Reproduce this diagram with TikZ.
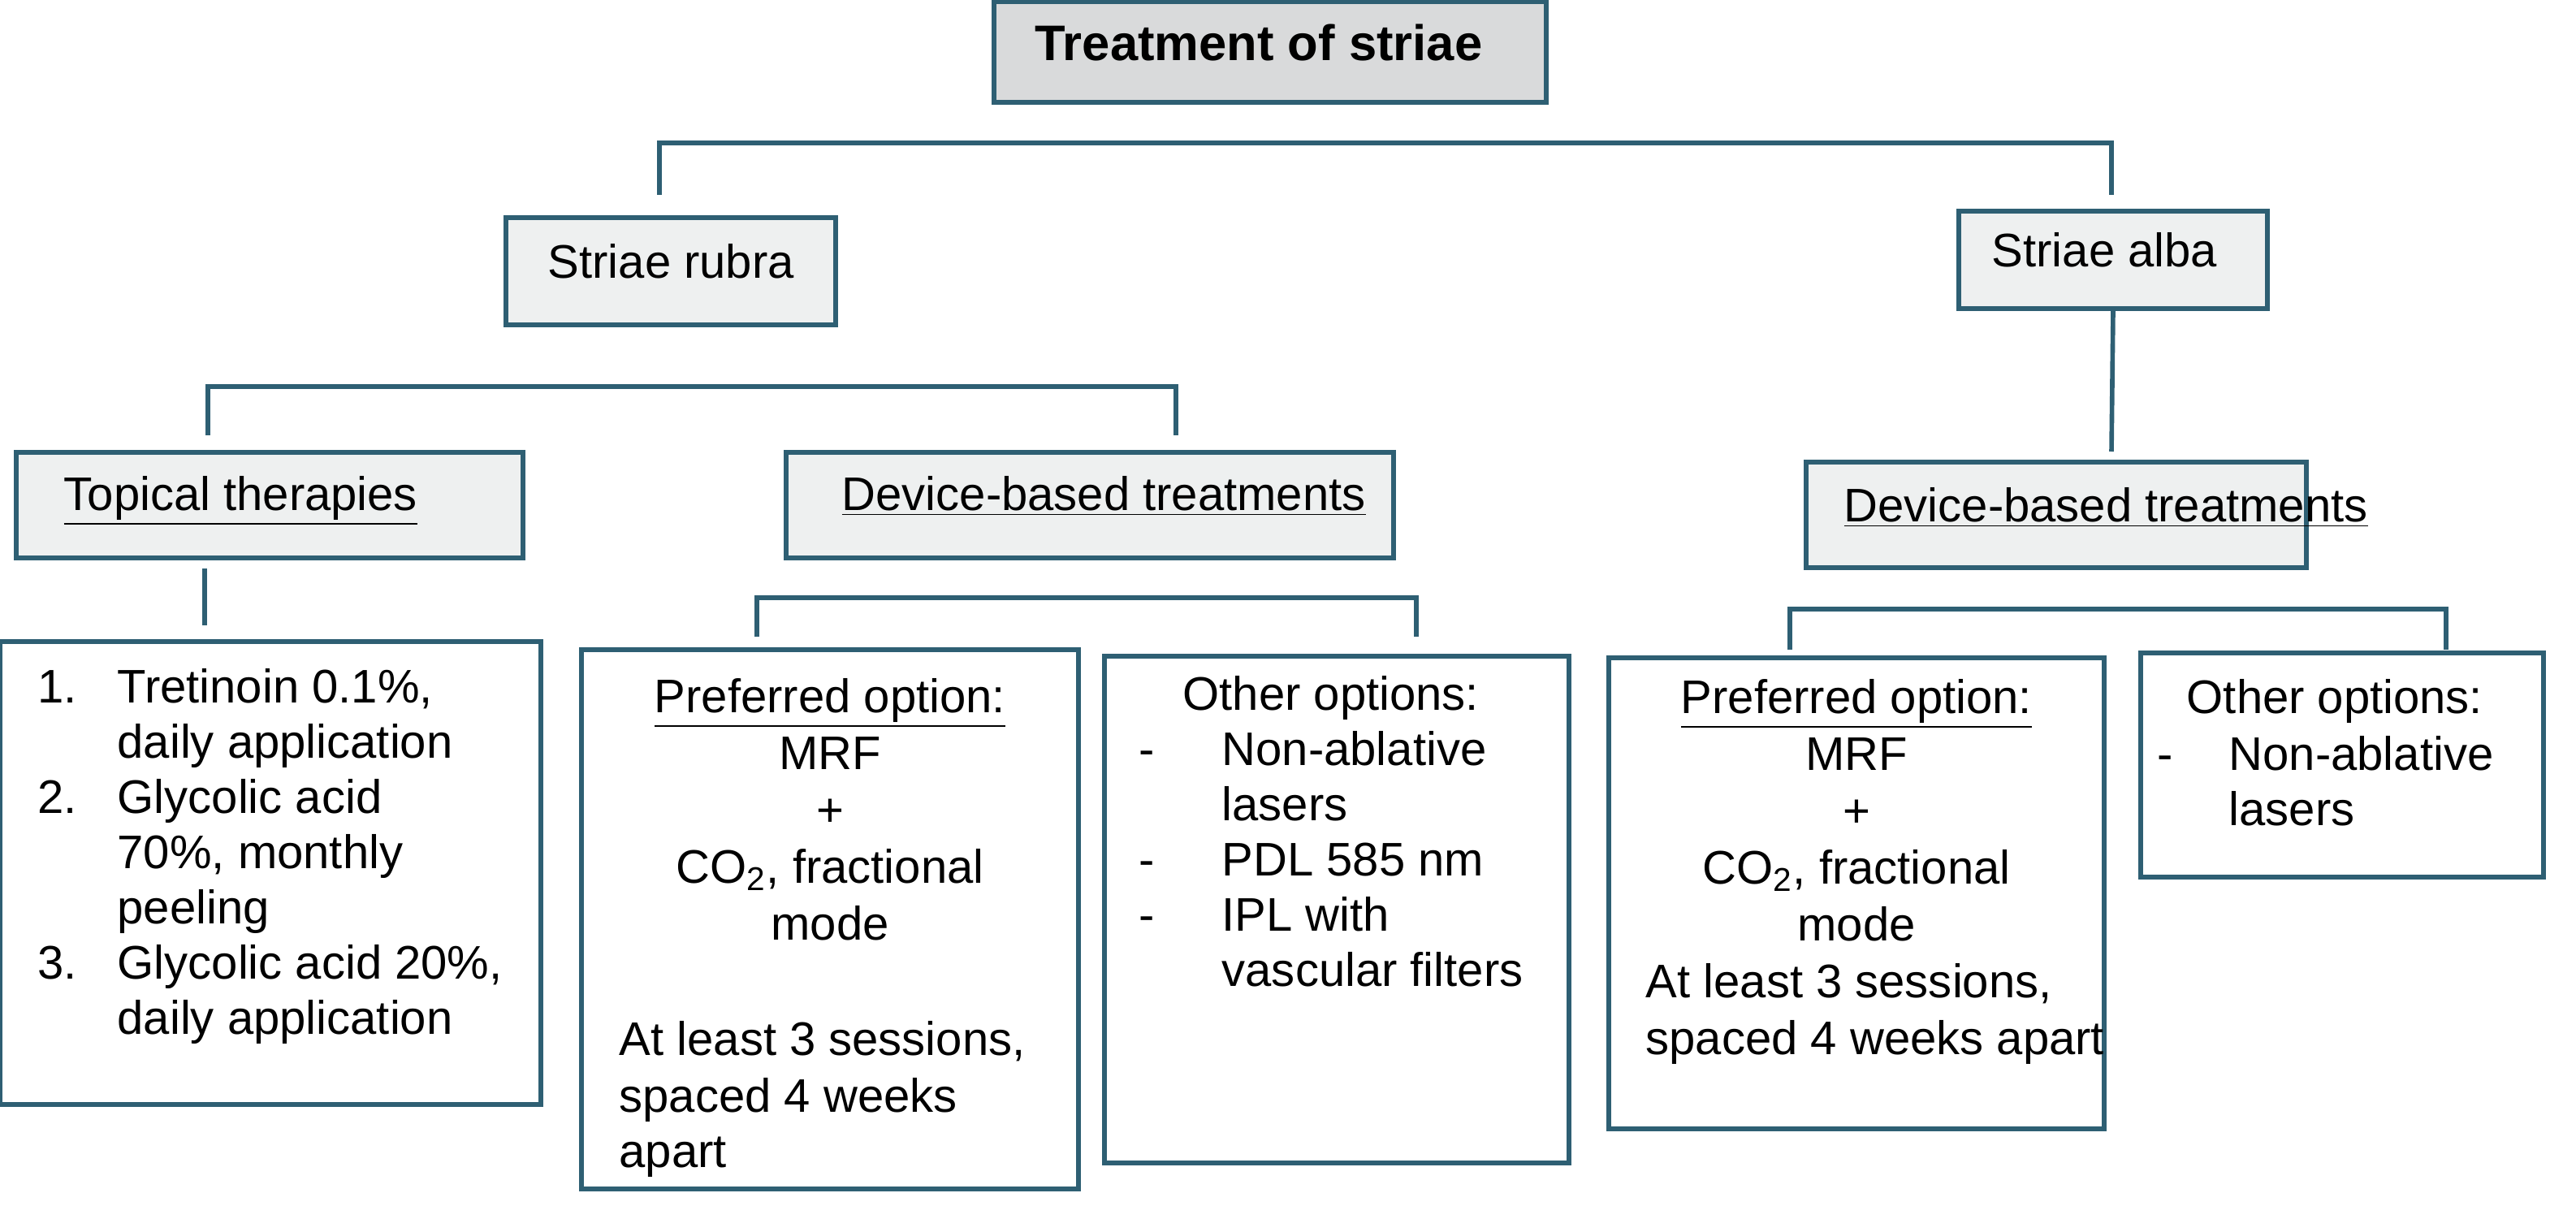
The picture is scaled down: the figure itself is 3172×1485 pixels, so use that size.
\documentclass[tikz,border=0pt]{standalone}
\usepackage{fontspec}
\setmainfont{Liberation Sans}
\usetikzlibrary{calc}
\definecolor{EdgeClr}{HTML}{2E5F73}
\definecolor{HeadClr}{HTML}{D9DADB}
\definecolor{SubClr}{HTML}{EEF0F0}

\begin{document}
\begin{tikzpicture}[x=0.01cm,y=-0.01cm]
\tikzset{box/.style={draw=EdgeClr,line width=1.6pt,inner sep=0pt},
  txt/.style={font=\fontsize{16.5}{20}\selectfont,inner sep=0pt,anchor=base west},
  ctxt/.style={txt,anchor=base},
  link/.style={draw=EdgeClr,line width=1.6pt}}
\useasboundingbox (0,0) rectangle (3172,1485);

% headers
\node[box,fill=HeadClr,minimum width=6.8cm,minimum height=1.24cm] (root) at (1564,64) {};
\node[txt,font=\fontsize{17.5}{20}\selectfont\bfseries] at (1274,75) {Treatment of striae};
\node[box,fill=SubClr,minimum width=4.06cm,minimum height=1.32cm] (rubra) at (826,334) {};
\node[txt] at (674,342) {Striae rubra};
\node[box,fill=SubClr,minimum width=3.8cm,minimum height=1.2cm] (alba) at (2602,320) {};
\node[txt] at (2452,328) {Striae alba};
\node[box,fill=SubClr,minimum width=6.24cm,minimum height=1.3cm] (topical) at (332,622) {};
\node[txt] at (78,628) {\underline{Topical therapies}};
\node[box,fill=SubClr,minimum width=7.48cm,minimum height=1.3cm] (devL) at (1342,622) {};
\node[txt] at (1036,628) {\underline{Device-based treatments}};
\node[box,fill=SubClr,minimum width=6.16cm,minimum height=1.3cm] (devR) at (2532,634) {};
\node[txt] at (2270,642) {\underline{Device-based treatments}};

% content boxes
\node[box,minimum width=6.66cm,minimum height=5.7cm] (list) at (333,1075) {};
\node[txt] at (46,865) {1.}; \node[txt] at (144,865) {Tretinoin 0.1\%,};
\node[txt] at (144,933) {daily application};
\node[txt] at (46,1001) {2.}; \node[txt] at (144,1001) {Glycolic acid};
\node[txt] at (144,1069) {70\%, monthly};
\node[txt] at (144,1137) {peeling};
\node[txt] at (46,1205) {3.}; \node[txt] at (144,1205) {Glycolic acid 20\%,};
\node[txt] at (144,1273) {daily application};

\node[box,minimum width=6.12cm,minimum height=6.64cm] (prefL) at (1022,1132) {};
\node[ctxt] at (1022,877) {\underline{Preferred option:}};
\node[ctxt] at (1022,947) {MRF};
\node[ctxt] at (1022,1017) {+};
\node[ctxt] at (1022,1087) {CO\textsubscript{2}, fractional};
\node[ctxt] at (1022,1157) {mode};
\node[txt] at (762,1299) {At least 3 sessions,};
\node[txt] at (762,1369) {spaced 4 weeks};
\node[txt] at (762,1437) {apart};

\node[box,minimum width=5.72cm,minimum height=6.24cm] (othL) at (1646,1120) {};
\node[txt] at (1456,874) {Other options:};
\node[txt] at (1402,942) {-}; \node[txt] at (1504,942) {Non-ablative};
\node[txt] at (1504,1010) {lasers};
\node[txt] at (1402,1078) {-}; \node[txt] at (1504,1078) {PDL 585 nm};
\node[txt] at (1402,1146) {-}; \node[txt] at (1504,1146) {IPL with};
\node[txt] at (1504,1214) {vascular filters};

\node[box,minimum width=6.1cm,minimum height=5.8cm] (prefR) at (2286,1100) {};
\node[ctxt] at (2286,878) {\underline{Preferred option:}};
\node[ctxt] at (2286,948) {MRF};
\node[ctxt] at (2286,1018) {+};
\node[ctxt] at (2286,1088) {CO\textsubscript{2}, fractional};
\node[ctxt] at (2286,1158) {mode};
\node[txt] at (2026,1228) {At least 3 sessions,};
\node[txt] at (2026,1298) {spaced 4 weeks apart};

\node[box,minimum width=4.96cm,minimum height=2.76cm] (othR) at (2884,942) {};
\node[txt] at (2692,878) {Other options:};
\node[txt] at (2656,948) {-}; \node[txt] at (2744,948) {Non-ablative};
\node[txt] at (2744,1016) {lasers};

% connectors
\coordinate (b1) at (812,240); \coordinate (b2) at (2600,240);
\draw[link] (b1) |- (1200,176) -| (b2);
\coordinate (b3) at (256,536); \coordinate (b4) at (1448,536);
\draw[link] (b3) |- (900,476) -| (b4);
\draw[link] (alba.south) -- (2600,556);
\draw[link] (252,700) -- (252,770);
\coordinate (b5) at (932,784); \coordinate (b6) at (1744,784);
\draw[link] (b5) |- (1300,736) -| (b6);
\coordinate (b7) at (2204,800); \coordinate (b8) at (3012,800);
\draw[link] (b7) |- (2600,750) -| (b8);
\end{tikzpicture}
\end{document}
